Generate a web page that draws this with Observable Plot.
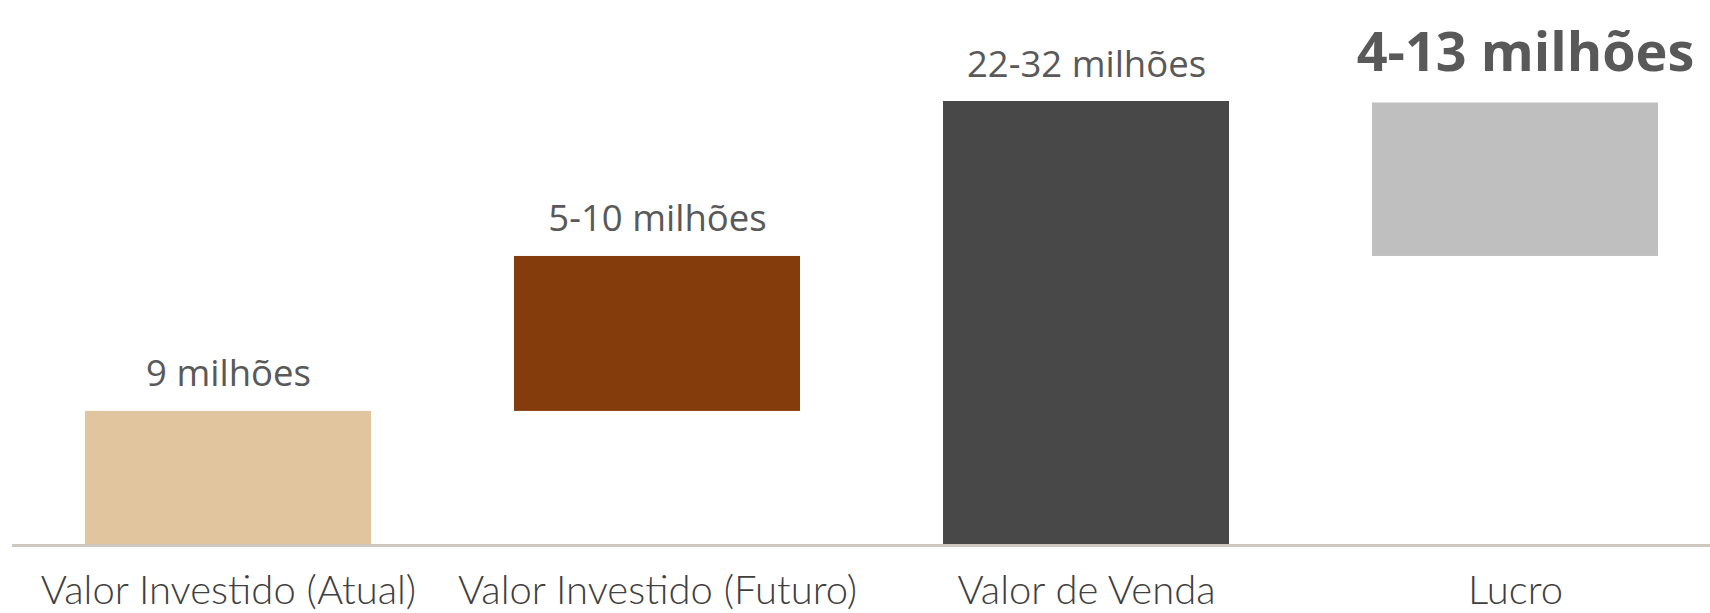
<!DOCTYPE html>
<html>
<head>
<meta charset="utf-8">
<script src="https://cdn.jsdelivr.net/npm/d3@7"></script>
<script src="https://cdn.jsdelivr.net/npm/@observablehq/plot@0.6"></script>
<style>
  html, body { margin: 0; padding: 0; background: #fff; }
  #chart svg { display: block; }
</style>
</head>
<body>
<div id="chart"></div>
<script>
const categories = ["Valor Investido (Atual)", "Valor Investido (Futuro)", "Valor de Venda", "Lucro"];
const starts = [0, 9, 0, 19.4];
const ends = [9, 19.4, 29.8, 29.7];
const labels = ["9 milhões", "5-10 milhões", "22-32 milhões", "4-13 milhões"];
const colors = ["#E1C59E", "#843C0C", "#484848", "#BFBFBF"];

const data = categories.map((c, i) => ({cat: c, y1: starts[i], y2: ends[i], label: labels[i], color: colors[i], big: i === 3}));

const chart = Plot.plot({
  width: 1710,
  height: 613,
  marginLeft: 12,
  marginRight: 0,
  marginTop: 0,
  marginBottom: 68,
  x: {domain: categories, range: [12, 1732], paddingInner: 0.333, paddingOuter: 0.1667, label: null},
  y: {domain: [0, 29.8], range: [545, 101], axis: null},
  style: {background: "#fff"},
  marks: [
    Plot.barY(data, {x: "cat", y1: "y1", y2: "y2", fill: "color"}),
    Plot.ruleY([0], {stroke: "#CDC7BE", strokeWidth: 3}),
    Plot.text(data.filter(d => !d.big), {x: "cat", y: "y2", text: "label", dy: -25, lineAnchor: "bottom",
      fill: "#595959", fontSize: 36.5, fontFamily: "Open Sans"}),
    Plot.text(data.filter(d => d.big), {x: "cat", y: "y2", text: "label", dy: -32, dx: 10, lineAnchor: "bottom",
      fill: "#595959", fontSize: 54, fontWeight: "bold", fontFamily: "Open Sans"}),
    Plot.axisX({tickSize: 0, tickPadding: 30, fontSize: 40, fill: "#404040", fontFamily: "Lato", fontWeight: 300, label: null})
  ]
});
document.getElementById("chart").appendChild(chart);
</script>
</body>
</html>
